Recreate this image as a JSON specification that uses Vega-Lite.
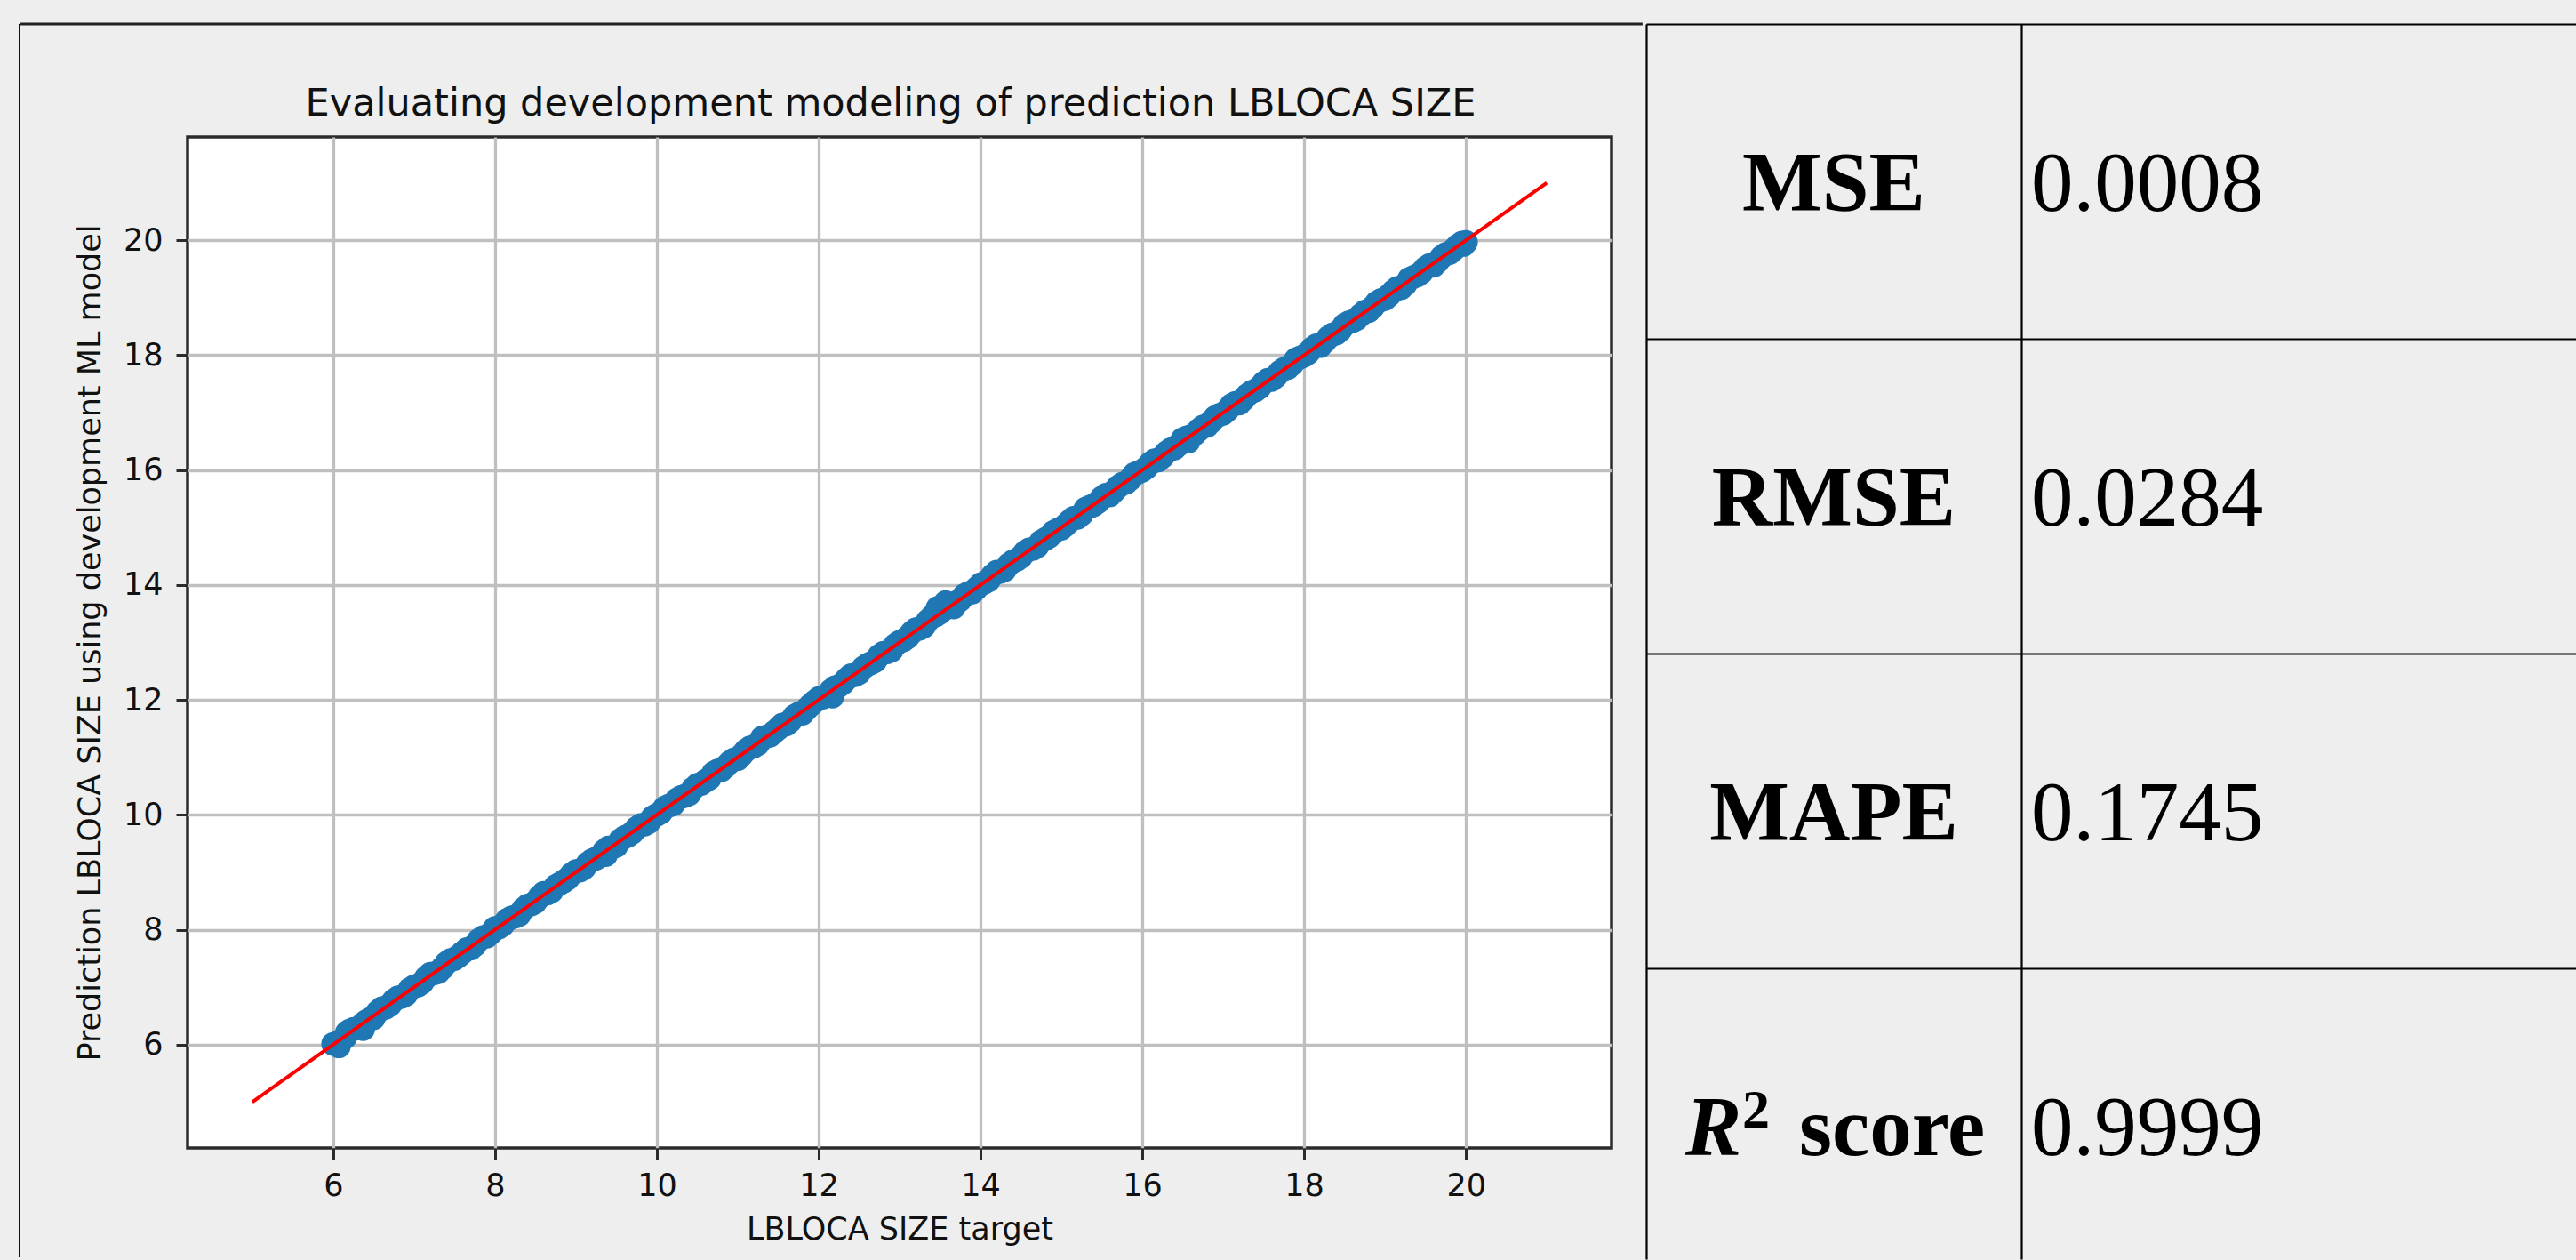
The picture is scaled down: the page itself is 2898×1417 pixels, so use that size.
{
  "$schema": "https://vega.github.io/schema/vega-lite/v6.json",
  "background": "#eeeeee",
  "padding": {"left": 18, "top": 23, "right": 0, "bottom": 0},
  "spacing": -9,
  "config": {"view": {"stroke": null}},
  "hconcat": [
    {
      "width": 1602,
      "height": 1137,
      "view": {"fill": "#ffffff", "stroke": "#2b2b2b", "strokeWidth": 3.5},
      "title": {
        "text": "Evaluating development modeling of prediction LBLOCA SIZE",
        "font": "DejaVu Sans",
        "fontSize": 43,
        "fontWeight": "normal",
        "color": "#111111",
        "anchor": "middle",
        "frame": "group",
        "baseline": "alphabetic",
        "offset": -148,
        "dx": -10
      },
      "layer": [
        {
          "data": {"values": [
            {"t":6.0,"p":6.01},{"t":6.1,"p":6.07},{"t":6.2,"p":6.24},{"t":6.3,"p":6.28},{"t":6.4,"p":6.40},{"t":6.5,"p":6.46},{"t":6.6,"p":6.63},{"t":6.7,"p":6.69},{"t":6.8,"p":6.82},{"t":6.9,"p":6.87},
            {"t":7.0,"p":7.01},{"t":7.1,"p":7.08},{"t":7.2,"p":7.23},{"t":7.3,"p":7.26},{"t":7.4,"p":7.42},{"t":7.5,"p":7.49},{"t":7.6,"p":7.60},{"t":7.7,"p":7.67},{"t":7.8,"p":7.82},{"t":7.9,"p":7.88},
            {"t":8.0,"p":8.03},{"t":8.1,"p":8.09},{"t":8.2,"p":8.21},{"t":8.3,"p":8.26},{"t":8.4,"p":8.42},{"t":8.5,"p":8.48},{"t":8.6,"p":8.64},{"t":8.7,"p":8.67},{"t":8.8,"p":8.80},{"t":8.9,"p":8.89},
            {"t":9.0,"p":9.02},{"t":9.1,"p":9.07},{"t":9.2,"p":9.21},{"t":9.3,"p":9.28},{"t":9.4,"p":9.43},{"t":9.5,"p":9.46},{"t":9.6,"p":9.61},{"t":9.7,"p":9.69},{"t":9.8,"p":9.82},{"t":9.9,"p":9.87},
            {"t":10.0,"p":10.00},{"t":10.1,"p":10.13},{"t":10.2,"p":10.18},{"t":10.3,"p":10.31},{"t":10.4,"p":10.36},{"t":10.5,"p":10.52},{"t":10.6,"p":10.59},{"t":10.7,"p":10.73},{"t":10.8,"p":10.78},{"t":10.9,"p":10.91},
            {"t":11.0,"p":10.97},{"t":11.1,"p":11.12},{"t":11.2,"p":11.19},{"t":11.3,"p":11.34},{"t":11.4,"p":11.38},{"t":11.5,"p":11.50},{"t":11.6,"p":11.57},{"t":11.7,"p":11.72},{"t":11.8,"p":11.76},{"t":11.9,"p":11.91},
            {"t":12.0,"p":12.03},{"t":12.1,"p":12.08},{"t":12.2,"p":12.22},{"t":12.3,"p":12.29},{"t":12.4,"p":12.43},{"t":12.5,"p":12.47},{"t":12.6,"p":12.61},{"t":12.7,"p":12.68},{"t":12.8,"p":12.82},{"t":12.9,"p":12.86},
            {"t":13.0,"p":13.01},{"t":13.1,"p":13.09},{"t":13.2,"p":13.23},{"t":13.3,"p":13.28},{"t":13.4,"p":13.45},{"t":13.5,"p":13.52},{"t":13.6,"p":13.64},{"t":13.7,"p":13.69},{"t":13.8,"p":13.82},{"t":13.9,"p":13.87},
            {"t":14.0,"p":14.01},{"t":14.1,"p":14.08},{"t":14.2,"p":14.23},{"t":14.3,"p":14.26},{"t":14.4,"p":14.41},{"t":14.5,"p":14.49},{"t":14.6,"p":14.62},{"t":14.7,"p":14.67},{"t":14.8,"p":14.80},{"t":14.9,"p":14.92},
            {"t":15.0,"p":14.98},{"t":15.1,"p":15.11},{"t":15.2,"p":15.17},{"t":15.3,"p":15.33},{"t":15.4,"p":15.39},{"t":15.5,"p":15.52},{"t":15.6,"p":15.56},{"t":15.7,"p":15.71},{"t":15.8,"p":15.78},{"t":15.9,"p":15.93},
            {"t":16.0,"p":15.99},{"t":16.1,"p":16.12},{"t":16.2,"p":16.17},{"t":16.3,"p":16.31},{"t":16.4,"p":16.38},{"t":16.5,"p":16.54},{"t":16.6,"p":16.59},{"t":16.7,"p":16.70},{"t":16.8,"p":16.77},{"t":16.9,"p":16.92},
            {"t":17.0,"p":16.98},{"t":17.1,"p":17.13},{"t":17.2,"p":17.16},{"t":17.3,"p":17.31},{"t":17.4,"p":17.39},{"t":17.5,"p":17.52},{"t":17.6,"p":17.57},{"t":17.7,"p":17.71},{"t":17.8,"p":17.78},{"t":17.9,"p":17.93},
            {"t":18.0,"p":17.99},{"t":18.1,"p":18.12},{"t":18.2,"p":18.16},{"t":18.3,"p":18.31},{"t":18.4,"p":18.38},{"t":18.5,"p":18.53},{"t":18.6,"p":18.59},{"t":18.7,"p":18.70},{"t":18.8,"p":18.77},{"t":18.9,"p":18.92},
            {"t":19.0,"p":18.98},{"t":19.1,"p":19.11},{"t":19.2,"p":19.17},{"t":19.3,"p":19.33},{"t":19.4,"p":19.39},{"t":19.5,"p":19.52},{"t":19.6,"p":19.56},{"t":19.7,"p":19.71},{"t":19.8,"p":19.78},{"t":19.9,"p":19.91},
            {"t":20.0,"p":19.97},
            {"t":6.05,"p":6.03},{"t":6.15,"p":6.13},{"t":6.25,"p":6.27},{"t":6.35,"p":6.33},{"t":6.45,"p":6.44},{"t":6.55,"p":6.57},{"t":6.65,"p":6.64},{"t":6.75,"p":6.77},{"t":6.85,"p":6.83},{"t":6.95,"p":6.97},
            {"t":7.05,"p":7.03},{"t":7.15,"p":7.17},{"t":7.25,"p":7.24},{"t":7.35,"p":7.33},{"t":7.45,"p":7.47},{"t":7.55,"p":7.54},{"t":7.65,"p":7.66},{"t":7.75,"p":7.73},{"t":7.85,"p":7.87},{"t":7.95,"p":7.94},
            {"t":8.05,"p":8.04},{"t":8.15,"p":8.17},{"t":8.25,"p":8.23},{"t":8.35,"p":8.36},{"t":8.45,"p":8.44},{"t":8.55,"p":8.57},{"t":8.65,"p":8.63},{"t":8.75,"p":8.76},{"t":8.85,"p":8.84},{"t":8.95,"p":8.97},
            {"t":9.05,"p":9.03},{"t":9.15,"p":9.16},{"t":9.25,"p":9.24},{"t":9.35,"p":9.37},{"t":9.45,"p":9.43},{"t":9.55,"p":9.56},{"t":9.65,"p":9.64},{"t":9.75,"p":9.77},{"t":9.85,"p":9.83},{"t":9.95,"p":9.96},
            {"t":10.05,"p":10.04},{"t":10.15,"p":10.16},{"t":10.25,"p":10.27},{"t":10.35,"p":10.33},{"t":10.45,"p":10.46},{"t":10.55,"p":10.54},{"t":10.65,"p":10.63},{"t":10.75,"p":10.77},{"t":10.85,"p":10.84},{"t":10.95,"p":10.96},
            {"t":11.05,"p":11.04},{"t":11.15,"p":11.17},{"t":11.25,"p":11.23},{"t":11.35,"p":11.36},{"t":11.45,"p":11.44},{"t":11.55,"p":11.57},{"t":11.65,"p":11.63},{"t":11.75,"p":11.76},{"t":11.85,"p":11.84},{"t":11.95,"p":11.97},
            {"t":12.05,"p":12.04},{"t":12.15,"p":12.16},{"t":12.25,"p":12.24},{"t":12.35,"p":12.37},{"t":12.45,"p":12.43},{"t":12.55,"p":12.56},{"t":12.65,"p":12.64},{"t":12.75,"p":12.77},{"t":12.85,"p":12.83},{"t":12.95,"p":12.96},
            {"t":13.05,"p":13.04},{"t":13.15,"p":13.17},{"t":13.25,"p":13.24},{"t":13.35,"p":13.38},{"t":13.45,"p":13.47},{"t":13.55,"p":13.58},{"t":13.65,"p":13.66},{"t":13.75,"p":13.74},{"t":13.85,"p":13.86},{"t":13.95,"p":13.94},
            {"t":14.05,"p":14.04},{"t":14.15,"p":14.17},{"t":14.25,"p":14.23},{"t":14.35,"p":14.36},{"t":14.45,"p":14.44},{"t":14.55,"p":14.57},{"t":14.65,"p":14.63},{"t":14.75,"p":14.76},{"t":14.85,"p":14.84},{"t":14.95,"p":14.96},
            {"t":15.05,"p":15.04},{"t":15.15,"p":15.17},{"t":15.25,"p":15.23},{"t":15.35,"p":15.36},{"t":15.45,"p":15.44},{"t":15.55,"p":15.57},{"t":15.65,"p":15.63},{"t":15.75,"p":15.76},{"t":15.85,"p":15.84},{"t":15.95,"p":15.96},
            {"t":16.05,"p":16.04},{"t":16.15,"p":16.17},{"t":16.25,"p":16.23},{"t":16.35,"p":16.36},{"t":16.45,"p":16.44},{"t":16.55,"p":16.57},{"t":16.65,"p":16.63},{"t":16.75,"p":16.76},{"t":16.85,"p":16.84},{"t":16.95,"p":16.96},
            {"t":17.05,"p":17.04},{"t":17.15,"p":17.17},{"t":17.25,"p":17.23},{"t":17.35,"p":17.36},{"t":17.45,"p":17.44},{"t":17.55,"p":17.57},{"t":17.65,"p":17.63},{"t":17.75,"p":17.76},{"t":17.85,"p":17.84},{"t":17.95,"p":17.96},
            {"t":18.05,"p":18.04},{"t":18.15,"p":18.17},{"t":18.25,"p":18.23},{"t":18.35,"p":18.36},{"t":18.45,"p":18.44},{"t":18.55,"p":18.57},{"t":18.65,"p":18.63},{"t":18.75,"p":18.76},{"t":18.85,"p":18.84},{"t":18.95,"p":18.96},
            {"t":19.05,"p":19.04},{"t":19.15,"p":19.17},{"t":19.25,"p":19.23},{"t":19.35,"p":19.36},{"t":19.45,"p":19.44},{"t":19.55,"p":19.57},{"t":19.65,"p":19.63},{"t":19.75,"p":19.76},{"t":19.85,"p":19.84},{"t":19.95,"p":19.96},
            {"t":6.07,"p":5.97},{"t":6.17,"p":6.21},{"t":6.37,"p":6.27},{"t":9.37,"p":9.30},{"t":12.17,"p":12.06},{"t":13.47,"p":13.60},{"t":13.57,"p":13.70},{"t":13.67,"p":13.61},{"t":16.57,"p":16.50},{"t":19.97,"p":19.92}
          ]},
          "mark": {"type": "circle", "size": 720, "color": "#1f77b4", "opacity": 1},
          "encoding": {
            "x": {
              "field": "t", "type": "quantitative",
              "scale": {"domain": [4.2, 21.8], "nice": false, "zero": false},
              "axis": {
                "values": [6, 8, 10, 12, 14, 16, 18, 20],
                "format": "d",
                "grid": true, "gridColor": "#bfbfbf", "gridWidth": 3.3,
                "domain": false,
                "ticks": true, "tickSize": 13, "tickWidth": 3, "tickColor": "#2b2b2b",
                "labelFont": "DejaVu Sans", "labelFontSize": 35, "labelColor": "#111111", "labelPadding": 12,
                "title": "LBLOCA SIZE target",
                "titleFont": "DejaVu Sans", "titleFontSize": 35, "titleFontWeight": "normal", "titleColor": "#111111", "titlePadding": 14
              }
            },
            "y": {
              "field": "p", "type": "quantitative",
              "scale": {"domain": [4.2, 21.8], "nice": false, "zero": false},
              "axis": {
                "values": [6, 8, 10, 12, 14, 16, 18, 20],
                "format": "d",
                "grid": true, "gridColor": "#bfbfbf", "gridWidth": 3.3,
                "domain": false,
                "ticks": true, "tickSize": 13, "tickWidth": 3, "tickColor": "#2b2b2b",
                "labelFont": "DejaVu Sans", "labelFontSize": 35, "labelColor": "#111111", "labelPadding": 15,
                "title": "Prediction LBLOCA SIZE using development ML model",
                "titleFont": "DejaVu Sans", "titleFontSize": 35, "titleFontWeight": "normal", "titleColor": "#111111", "titlePadding": 19
              }
            }
          }
        },
        {
          "data": {"values": [{"t": 5, "p": 5}, {"t": 21, "p": 21}]},
          "mark": {"type": "line", "color": "#ff0000", "strokeWidth": 4},
          "encoding": {
            "x": {"field": "t", "type": "quantitative"},
            "y": {"field": "p", "type": "quantitative"}
          }
        },
        {
          "data": {"values": [{}]},
          "mark": {"type": "rule", "clip": false, "color": "#111111", "strokeWidth": 2},
          "encoding": {
            "x": {"datum": 2.1235, "type": "quantitative"},
            "y": {"datum": 23.766, "type": "quantitative"},
            "y2": {"datum": 2.296}
          }
        },
        {
          "data": {"values": [{}]},
          "mark": {"type": "rule", "clip": false, "color": "#222222", "strokeWidth": 3},
          "encoding": {
            "x": {"datum": 2.1235, "type": "quantitative"},
            "x2": {"datum": 22.183},
            "y": {"datum": 23.766, "type": "quantitative"}
          }
        }
      ]
    },
    {
      "width": 1049,
      "height": 1137,
      "view": {"stroke": null},
      "data": {"values": [
        {"row": 0, "metric": "MSE", "value": "0.0008"},
        {"row": 1, "metric": "RMSE", "value": "0.0284"},
        {"row": 2, "metric": "MAPE", "value": "0.1745"},
        {"row": 3, "metric": "R² score", "sym": "R", "sup": "2", "rest": "score", "value": "0.9999"}
      ]},
      "encoding": {
        "y": {
          "field": "row", "type": "quantitative",
          "scale": {"domain": [0, 3.9237], "range": [-127, 1262], "nice": false, "zero": false},
          "axis": {"orient": "left", "values": [0, 1, 2, 3], "grid": true, "gridColor": "#000000", "gridWidth": 2.2, "domain": false, "ticks": false, "labels": false, "title": null}
        }
      },
      "layer": [
        {
          "transform": [{"filter": "datum.row < 3"}],
          "mark": {"type": "text", "font": "Liberation Serif", "fontSize": 95, "fontWeight": "bold", "align": "center", "baseline": "alphabetic", "dy": 209.5, "dx": 211, "color": "#000000"},
          "encoding": {
            "text": {"field": "metric"},
            "x": {
              "datum": 0, "type": "quantitative",
              "scale": {"domain": [0, 2.4858], "range": [0, 1049], "nice": false, "zero": false},
              "axis": {"orient": "top", "values": [0, 1], "grid": true, "gridColor": "#000000", "gridWidth": 2.2, "domain": false, "ticks": false, "labels": false, "title": null}
            }
          }
        },
        {
          "transform": [{"filter": "datum.row == 3"}],
          "mark": {"type": "text", "font": "Liberation Serif", "fontSize": 95, "fontWeight": "bold", "fontStyle": "italic", "align": "left", "baseline": "alphabetic", "dy": 209.5, "dx": 44, "color": "#000000"},
          "encoding": {
            "text": {"field": "sym"},
            "x": {"datum": 0, "type": "quantitative"}
          }
        },
        {
          "transform": [{"filter": "datum.row == 3"}],
          "mark": {"type": "text", "font": "Liberation Serif", "fontSize": 62, "fontWeight": "bold", "align": "left", "baseline": "alphabetic", "dy": 178.5, "dx": 108, "color": "#000000"},
          "encoding": {
            "text": {"field": "sup"},
            "x": {"datum": 0, "type": "quantitative"}
          }
        },
        {
          "transform": [{"filter": "datum.row == 3"}],
          "mark": {"type": "text", "font": "Liberation Serif", "fontSize": 95, "fontWeight": "bold", "align": "left", "baseline": "alphabetic", "dy": 209.5, "dx": 172, "color": "#000000"},
          "encoding": {
            "text": {"field": "rest"},
            "x": {"datum": 0, "type": "quantitative"}
          }
        },
        {
          "mark": {"type": "text", "font": "Liberation Serif", "fontSize": 95, "fontWeight": "normal", "align": "left", "baseline": "alphabetic", "dy": 209.5, "dx": 11, "color": "#000000"},
          "encoding": {
            "text": {"field": "value"},
            "x": {"datum": 1, "type": "quantitative"}
          }
        }
      ]
    }
  ]
}
